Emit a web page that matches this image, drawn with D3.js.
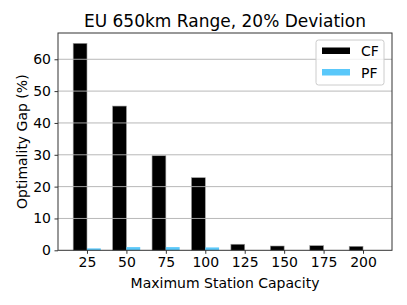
<!DOCTYPE html>
<html lang="en">
<head>
  <meta charset="UTF-8">
  <title>EU 650km Range, 20% Deviation</title>
  <script src="https://cdn.jsdelivr.net/npm/d3@7"></script>
  <style>
    body { margin: 0; background: #fff; }
    text { font-family: "DejaVu Sans", sans-serif; fill: #000; }
  </style>
</head>
<body>
  <div id="chart"></div>
  <script>
    const capacities = ["25", "50", "75", "100", "125", "150", "175", "200"];
    const cfGap = [65.0, 45.3, 29.7, 22.8, 1.9, 1.35, 1.45, 1.25];
    const pfGap = [0.6, 1.0, 1.0, 0.9, 0, 0, 0, 0];
    const yTicks = [0, 10, 20, 30, 40, 50, 60];

    const w = 407, h = 305;
    const plotLeft = 58, plotRight = 392, plotTop = 33, plotBottom = 250.3;
    const barW = 0.35;

    const svg = d3.select("#chart").append("svg")
      .attr("width", w)
      .attr("height", h);

    const x = d3.scaleLinear()
      .domain([-0.735, capacities.length - 1 + 0.735])
      .range([plotLeft, plotRight]);

    const y = d3.scaleLinear()
      .domain([0, 68.25])
      .range([plotBottom, plotTop]);

    // bars
    svg.append("g").selectAll("rect")
      .data(cfGap)
      .enter().append("rect")
      .attr("x", (d, i) => x(i - barW))
      .attr("y", d => y(d))
      .attr("width", x(barW) - x(0))
      .attr("height", d => plotBottom - y(d))
      .attr("fill", "#000")
      .attr("stroke", "#999")
      .attr("stroke-width", 0.6);

    svg.append("g").selectAll("rect")
      .data(pfGap)
      .enter().append("rect")
      .attr("x", (d, i) => x(i))
      .attr("y", d => y(d))
      .attr("width", x(barW) - x(0))
      .attr("height", d => plotBottom - y(d))
      .attr("fill", "#5ac8fa");

    // grid on top of bars
    svg.append("g").selectAll("line")
      .data(yTicks.filter(t => t > 0))
      .enter().append("line")
      .attr("x1", plotLeft).attr("x2", plotRight)
      .attr("y1", d => y(d)).attr("y2", d => y(d))
      .attr("stroke", "#b0b0b0")
      .attr("stroke-width", 0.9);

    const xAxis = d3.axisBottom(x)
      .tickValues(d3.range(capacities.length))
      .tickFormat(i => capacities[i])
      .tickSize(3.5)
      .tickPadding(3.5);

    const yAxis = d3.axisLeft(y)
      .tickValues(yTicks)
      .tickSize(3.5)
      .tickPadding(3.5);

    const gx = svg.append("g")
      .attr("transform", "translate(0," + plotBottom + ")")
      .call(xAxis);
    const gy = svg.append("g")
      .attr("transform", "translate(" + plotLeft + ",0)")
      .call(yAxis);

    [gx, gy].forEach(g => {
      g.select(".domain").remove();
      g.selectAll("line").attr("stroke", "#333");
      g.selectAll("text").attr("font-size", "14px").attr("font-family", "DejaVu Sans");
    });

    // frame
    svg.append("rect")
      .attr("x", plotLeft).attr("y", plotTop)
      .attr("width", plotRight - plotLeft).attr("height", plotBottom - plotTop)
      .attr("fill", "none")
      .attr("stroke", "#333")
      .attr("stroke-width", 1);

    svg.append("text")
      .attr("x", (plotLeft + plotRight) / 2).attr("y", 27)
      .attr("text-anchor", "middle")
      .attr("font-size", "17px")
      .text("EU 650km Range, 20% Deviation");

    svg.append("text")
      .attr("x", (plotLeft + plotRight) / 2).attr("y", 288)
      .attr("text-anchor", "middle")
      .attr("font-size", "14px")
      .text("Maximum Station Capacity");

    svg.append("text")
      .attr("transform", "translate(27," + ((plotTop + plotBottom) / 2) + ") rotate(-90)")
      .attr("text-anchor", "middle")
      .attr("font-size", "14px")
      .text("Optimality Gap (%)");

    // legend
    const legend = svg.append("g");
    legend.append("rect")
      .attr("x", 316).attr("y", 40)
      .attr("width", 68).attr("height", 45)
      .attr("rx", 2.5)
      .attr("fill", "#fff")
      .attr("fill-opacity", 0.8)
      .attr("stroke", "#ccc");
    const items = [["CF", "#000"], ["PF", "#5ac8fa"]];
    items.forEach((it, i) => {
      legend.append("rect")
        .attr("x", 322).attr("y", 47.5 + i * 21.5)
        .attr("width", 28).attr("height", 6.5)
        .attr("fill", it[1]);
      legend.append("text")
        .attr("x", 361).attr("y", 56 + i * 21.5)
        .attr("font-size", "14px")
        .text(it[0]);
    });
  </script>
</body>
</html>
